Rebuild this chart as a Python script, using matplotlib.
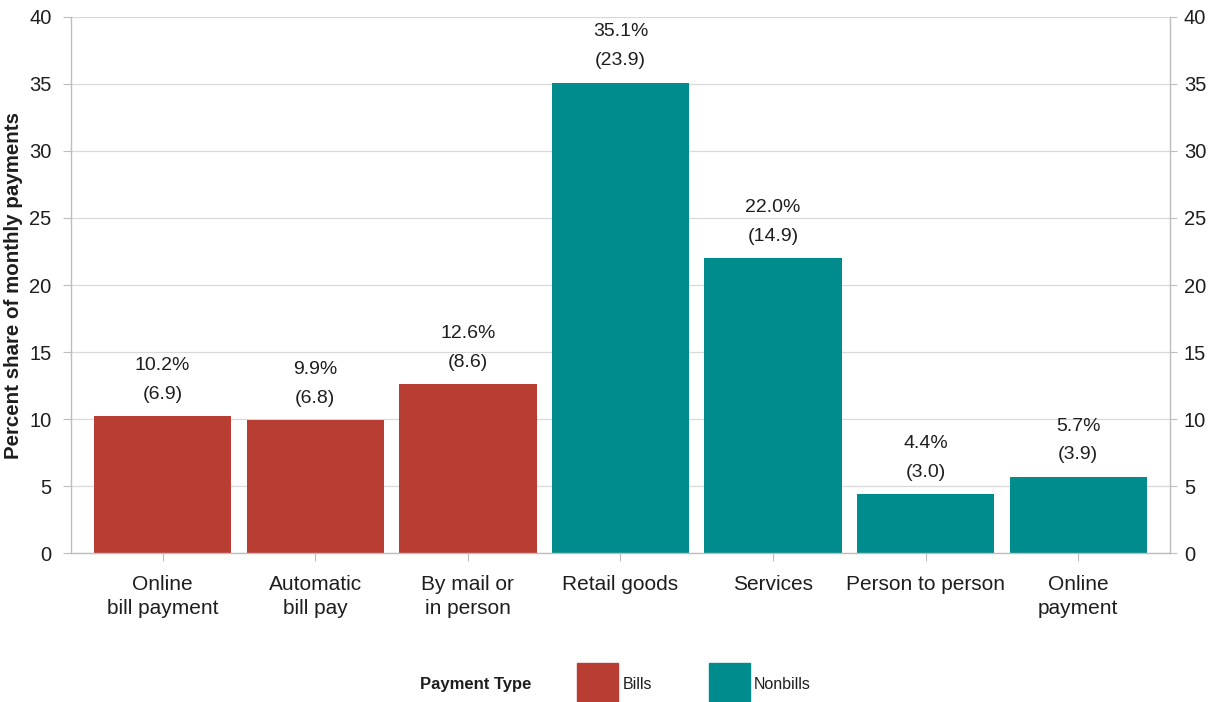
import matplotlib.pyplot as plt
from matplotlib.patches import Rectangle

plt.rcParams["font.family"] = ["Liberation Sans", "DejaVu Sans"]

categories = ["Online\nbill payment", "Automatic\nbill pay", "By mail or\nin person",
              "Retail goods", "Services", "Person to person", "Online\npayment"]
shares = [10.2, 9.9, 12.6, 35.1, 22.0, 4.4, 5.7]
counts = [6.9, 6.8, 8.6, 23.9, 14.9, 3.0, 3.9]
groups = ["Bills", "Bills", "Bills", "Nonbills", "Nonbills", "Nonbills", "Nonbills"]
y_ticks = list(range(0, 41, 5))

colors = {"Bills": "#B83E33", "Nonbills": "#008B8C"}
grid_color = "#D9D9D9"
spine_color = "#BDBDBD"
text_color = "#1E1E1E"

fig = plt.figure(figsize=(12.25, 7.02), dpi=100)
ax = fig.add_axes([0.058, 0.212, 0.897, 0.764])

x = list(range(len(categories)))
ax.bar(x, shares, width=0.9, color=[colors[g] for g in groups], zorder=2)

for xi, s, c in zip(x, shares, counts):
    ax.text(xi, s + 1.0, f"{s:.1f}%\n({c:.1f})", ha="center", va="bottom",
            fontsize=14, linespacing=1.9, color=text_color)

ax.set_xlim(-0.6, 6.6)
ax.set_ylim(0, 40)
ax.set_yticks(y_ticks)
ax.set_xticks(x)
ax.set_xticklabels(categories, fontsize=15, linespacing=1.3, color=text_color)
ax.grid(axis="y", color=grid_color, linewidth=0.9, zorder=0)

ax.tick_params(axis="y", labelsize=14.5, length=6, color=spine_color, pad=8,
               labelcolor=text_color)
ax.tick_params(axis="x", length=6, color=spine_color, pad=10)

for side in ["left", "right", "bottom"]:
    ax.spines[side].set_color(spine_color)
    ax.spines[side].set_linewidth(1.0)
ax.spines["top"].set_visible(False)

# mirrored scale on the right
ax_r = ax.twinx()
ax_r.set_ylim(ax.get_ylim())
ax_r.set_yticks(y_ticks)
ax_r.tick_params(axis="y", labelsize=14.5, length=5, color=spine_color, pad=5,
                 labelcolor=text_color)
for side in ["left", "right", "bottom", "top"]:
    ax_r.spines[side].set_visible(False)

ax.set_ylabel("Percent share of monthly payments", fontsize=14.8,
              fontweight="bold", color=text_color)
ax.yaxis.set_label_coords(-0.044, 0.5)

# legend row along the bottom edge
fig.text(0.343, 0.0256, "Payment Type", fontsize=12, fontweight="bold",
         va="center", color=text_color)
fig.add_artist(Rectangle((0.471, -0.01), 0.0335, 0.0656, transform=fig.transFigure,
                         color=colors["Bills"]))
fig.text(0.5086, 0.0256, "Bills", fontsize=11.5, va="center", color=text_color)
fig.add_artist(Rectangle((0.5788, -0.01), 0.0335, 0.0656, transform=fig.transFigure,
                         color=colors["Nonbills"]))
fig.text(0.6155, 0.0256, "Nonbills", fontsize=11.5, va="center", color=text_color)

fig.savefig("out.png", dpi=100)
